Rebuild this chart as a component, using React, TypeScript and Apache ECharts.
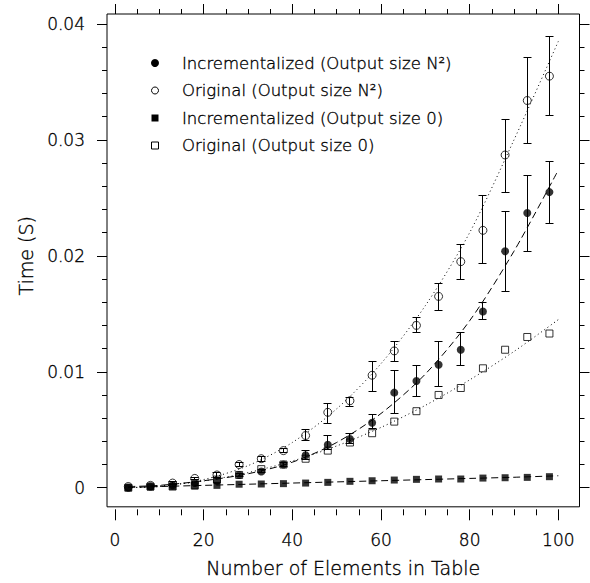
import React, { useEffect, useRef } from "react";
import * as echarts from "echarts";

// ---- data ----
const xValues = [3, 8, 13, 18, 23, 28, 33, 38, 43, 48, 53, 58, 63, 68, 73, 78, 83, 88, 93, 98];

// Incrementalized (Output size N^2) – filled circles, with error bars
const incN2 = [0.0000, 0.0001, 0.0002, 0.0004, 0.0006, 0.0011, 0.0014, 0.0020, 0.0028, 0.0037, 0.0042, 0.0056, 0.0082, 0.0092, 0.0106, 0.0119, 0.0152, 0.0204, 0.0237, 0.0255];
const incN2Low = [0.0000, 0.0001, 0.0002, 0.0004, 0.0006, 0.0010, 0.0013, 0.0018, 0.0024, 0.0033, 0.0038, 0.0051, 0.0064, 0.0079, 0.0087, 0.0105, 0.0145, 0.0169, 0.0204, 0.0228];
const incN2High = [0.0000, 0.0001, 0.0002, 0.0004, 0.0006, 0.0012, 0.0016, 0.0022, 0.0032, 0.0045, 0.0047, 0.0063, 0.0101, 0.0105, 0.0126, 0.0134, 0.0160, 0.0238, 0.0269, 0.0281];

// Original (Output size N^2) – open circles, with error bars
const origN2 = [0.0001, 0.0002, 0.0004, 0.0008, 0.0011, 0.0020, 0.0025, 0.0032, 0.0045, 0.0065, 0.0075, 0.0097, 0.0118, 0.0140, 0.0165, 0.0195, 0.0222, 0.0287, 0.0334, 0.0355];
const origN2Low = [0.0001, 0.0002, 0.0003, 0.0007, 0.0009, 0.0018, 0.0023, 0.0030, 0.0041, 0.0055, 0.0070, 0.0083, 0.0109, 0.0134, 0.0153, 0.0180, 0.0193, 0.0255, 0.0297, 0.0321];
const origN2High = [0.0001, 0.0002, 0.0005, 0.0009, 0.0013, 0.0022, 0.0027, 0.0034, 0.0050, 0.0073, 0.0078, 0.0109, 0.0126, 0.0147, 0.0176, 0.0210, 0.0252, 0.0318, 0.0371, 0.0389];

// Incrementalized (Output size 0) – filled squares
const inc0 = [0.0000, 0.00006, 0.0001, 0.00015, 0.0002, 0.0003, 0.00032, 0.00035, 0.0004, 0.00046, 0.00055, 0.0006, 0.00066, 0.00072, 0.00075, 0.00075, 0.00083, 0.00086, 0.00089, 0.00095];

// Original (Output size 0) – open squares
const orig0 = [0.0000, 0.0001, 0.0001, 0.0002, 0.0007, 0.0011, 0.0016, 0.0020, 0.0025, 0.0032, 0.0039, 0.0047, 0.0057, 0.0066, 0.0080, 0.0086, 0.0103, 0.0119, 0.0130, 0.0133];

// fitted curves
const fitX = [3, 10, 20, 30, 40, 50, 60, 70, 80, 90, 100];
const fitIncN2 = [0.0001, 0.0002, 0.0006, 0.0012, 0.0022, 0.0039, 0.0064, 0.0098, 0.0144, 0.0204, 0.0274];
const fitOrigN2 = [0.0000, 0.0001, 0.0007, 0.0019, 0.0039, 0.0068, 0.0107, 0.0157, 0.0220, 0.0300, 0.0385];
const fitInc0 = [0.00002, 0.0001, 0.0002, 0.0003, 0.0004, 0.0005, 0.0006, 0.0007, 0.0008, 0.0009, 0.00103];
const fitOrig0 = [0.0000, 0.00015, 0.00058, 0.0013, 0.0023, 0.0036, 0.0052, 0.0071, 0.0093, 0.01175, 0.0145];

const legendLabels = [
  "Incrementalized (Output size N\u00B2)",
  "Original (Output size N\u00B2)",
  "Incrementalized (Output size 0)",
  "Original (Output size 0)",
];

const xTitle = "Number of Elements in Table";
const yTitle = "Time (S)";

const FONT = "DejaVu Sans";
const INK = "#000";
const TEXT_INK = "#000";

function pairs(xs: number[], ys: number[]) {
  return xs.map((x, i) => [x, ys[i]]);
}

const crisp = (v: number) => Math.round(v - 0.5) + 0.5;

function errorBarSeries(low: number[], high: number[]) {
  return {
    type: "custom",
    xAxisIndex: 0,
    yAxisIndex: 0,
    data: xValues.map((x, i) => [x, low[i], high[i]]),
    encode: { x: 0, y: [1, 2] },
    z: 3,
    renderItem: (params: any, api: any) => {
      const x = api.value(0);
      const lo = api.value(1);
      const hi = api.value(2);
      if (hi - lo < 0.00015) return { type: "group", children: [] };
      const pTop = api.coord([x, hi]);
      const pBot = api.coord([x, lo]);
      const cx = crisp(pTop[0]);
      const yT = crisp(pTop[1]);
      const yB = crisp(pBot[1]);
      const hw = 4;
      const st = { stroke: INK, lineWidth: 1 };
      return {
        type: "group",
        children: [
          { type: "line", shape: { x1: cx, y1: yT, x2: cx, y2: yB }, style: st },
          { type: "line", shape: { x1: cx - hw, y1: yT, x2: cx + hw, y2: yT }, style: st },
          { type: "line", shape: { x1: cx - hw, y1: yB, x2: cx + hw, y2: yB }, style: st },
        ],
      };
    },
  };
}

function fitSeries(ys: number[], dash: number[]) {
  return {
    type: "line",
    xAxisIndex: 0,
    yAxisIndex: 0,
    data: pairs(fitX, ys),
    showSymbol: false,
    symbol: "none",
    smooth: 0.3,
    lineStyle: { color: INK, width: 1, type: dash },
    z: 2,
    silent: true,
  };
}

export default function App() {
  const ref = useRef<HTMLDivElement>(null);

  useEffect(() => {
    if (!ref.current) return;
    const chart = echarts.init(ref.current, undefined, { renderer: "svg" });

    const textStroke = { textBorderColor: TEXT_INK, textBorderWidth: 0.35 };
    const tickLabelStyle = { fontFamily: FONT, fontSize: 17, color: TEXT_INK, fontWeight: 200 as any, ...textStroke };
    const titleStyle = { fontFamily: FONT, fontSize: 19, color: TEXT_INK, fontWeight: 200 as any, ...textStroke };
    const tickLine = { color: INK, width: 1 };

    const legendRows = legendLabels.map((label, i) => {
      const cy = 63 + i * 27.5;
      const cx = 155;
      let marker: any;
      if (i === 0) marker = { type: "circle", shape: { cx, cy, r: 4 }, style: { fill: INK } };
      else if (i === 1) marker = { type: "circle", shape: { cx, cy, r: 3.5 }, style: { fill: "none", stroke: INK, lineWidth: 1 } };
      else if (i === 2) marker = { type: "rect", shape: { x: cx - 3.5, y: cy - 3.5, width: 7, height: 7 }, style: { fill: INK } };
      else marker = { type: "rect", shape: { x: cx - 3.5, y: cy - 3.5, width: 7, height: 7 }, style: { fill: "none", stroke: INK, lineWidth: 1 } };
      return [
        marker,
        {
          type: "text",
          x: 182,
          y: cy,
          style: {
            text: label, fontFamily: FONT, fontSize: 16.5, fontWeight: 200, fill: TEXT_INK,
            stroke: TEXT_INK, lineWidth: 0.35,
            verticalAlign: "middle", align: "left",
          },
        },
      ];
    }).flat();

    const hiddenAxis = {
      axisLine: { show: false, onZero: false }, axisTick: { show: false }, axisLabel: { show: false }, splitLine: { show: false },
    };

    chart.setOption({
      animation: false,
      backgroundColor: "#fff",
      grid: [
        { left: 115, right: 31.7, top: 24, bottom: 95.3, show: false },
        { left: 107, right: 10.5, top: 14, bottom: 73.7, show: true, borderColor: INK, borderWidth: 1, backgroundColor: "transparent" },
      ],
      xAxis: [
        {
          type: "value", gridIndex: 0, position: "bottom", offset: 21.6,
          min: 0, max: 100, interval: 20,
          axisLine: { show: false, onZero: false },
          axisTick: { show: true, inside: false, length: 11, lineStyle: tickLine },
          minorTick: { show: true, splitNumber: 4, length: 6, lineStyle: tickLine },
          axisLabel: { ...tickLabelStyle, margin: 22 },
          splitLine: { show: false },
        },
        {
          type: "value", gridIndex: 0, position: "top", offset: 10,
          min: 0, max: 100, interval: 20,
          axisLine: { show: false, onZero: false },
          axisTick: { show: true, inside: false, length: 10, lineStyle: tickLine },
          minorTick: { show: true, splitNumber: 4, length: 5, lineStyle: tickLine },
          axisLabel: { show: false },
          splitLine: { show: false },
        },
        {
          type: "value", gridIndex: 1, position: "bottom", min: 0, max: 1,
          ...hiddenAxis,
          name: xTitle, nameLocation: "middle", nameGap: 52,
          nameTextStyle: titleStyle,
        },
      ],
      yAxis: [
        {
          type: "value", gridIndex: 0, position: "left", offset: 8,
          min: 0, max: 0.04, interval: 0.01,
          axisLine: { show: false, onZero: false },
          axisTick: { show: true, inside: false, length: 10, lineStyle: tickLine },
          minorTick: { show: true, splitNumber: 5, length: 5, lineStyle: tickLine },
          axisLabel: { ...tickLabelStyle, margin: 22, formatter: (v: number) => (v === 0 ? "0" : v.toFixed(2)) },
          splitLine: { show: false },
          name: yTitle, nameLocation: "middle", nameGap: 68,
          nameTextStyle: titleStyle,
        },
        {
          type: "value", gridIndex: 0, position: "right", offset: 21.2,
          min: 0, max: 0.04, interval: 0.01,
          axisLine: { show: false, onZero: false },
          axisTick: { show: true, inside: false, length: 10, lineStyle: tickLine },
          minorTick: { show: true, splitNumber: 5, length: 5, lineStyle: tickLine },
          axisLabel: { show: false },
          splitLine: { show: false },
        },
        {
          type: "value", gridIndex: 1, min: 0, max: 1,
          ...hiddenAxis,
        },
      ],
      graphic: legendRows,
      series: [
        fitSeries(fitIncN2, [7, 4]),
        fitSeries(fitOrigN2, [1, 3]),
        fitSeries(fitInc0, [7, 4]),
        fitSeries(fitOrig0, [1, 3]),
        errorBarSeries(incN2Low, incN2High),
        errorBarSeries(origN2Low, origN2High),
        {
          name: legendLabels[2], type: "scatter", xAxisIndex: 0, yAxisIndex: 0,
          data: pairs(xValues, inc0), symbol: "rect", symbolSize: 7,
          itemStyle: { color: INK }, z: 4,
        },
        {
          name: legendLabels[3], type: "scatter", xAxisIndex: 0, yAxisIndex: 0,
          data: pairs(xValues, orig0), symbol: "rect", symbolSize: 7,
          itemStyle: { color: "rgba(255,255,255,0)", borderColor: INK, borderWidth: 1 }, z: 4,
        },
        {
          name: legendLabels[1], type: "scatter", xAxisIndex: 0, yAxisIndex: 0,
          data: pairs(xValues, origN2), symbol: "circle", symbolSize: 8,
          itemStyle: { color: "rgba(255,255,255,0)", borderColor: INK, borderWidth: 1 }, z: 4,
        },
        {
          name: legendLabels[0], type: "scatter", xAxisIndex: 0, yAxisIndex: 0,
          data: pairs(xValues, incN2), symbol: "circle", symbolSize: 8,
          itemStyle: { color: INK }, z: 5,
        },
      ],
    });

    return () => chart.dispose();
  }, []);

  return <div ref={ref} style={{ width: 590, height: 583, position: "absolute", left: 0, top: 0 }} />;
}
